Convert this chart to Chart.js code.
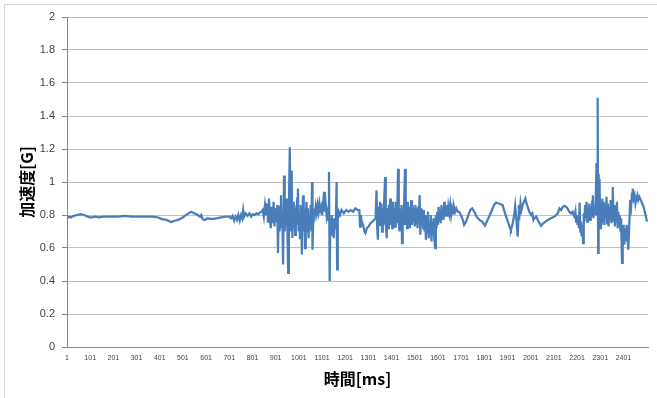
<!DOCTYPE html>
<html>
<head>
<meta charset="utf-8">
<script src="https://cdn.jsdelivr.net/npm/chart.js@4/dist/chart.umd.min.js"></script>
<style>
  html, body { margin: 0; padding: 0; background: #fff; }
  #wrap { width: 657px; height: 398px; position: relative; }
</style>
</head>
<body>
<div id="wrap"><canvas id="myChart" width="657" height="398"></canvas></div>
<script>
// time [ms] of each sample
const timeMs = [
  1, 8, 18, 30, 45, 60, 75, 90, 105, 120,
  140, 160, 190, 220, 250, 280, 310, 340, 370, 395,
  410, 430, 450, 465, 480, 500, 520, 536, 550, 565,
  575, 580, 586, 595, 608, 625, 645, 665, 685, 700,
  708, 715, 722, 728, 734, 740, 746, 752, 757, 761,
  765, 772, 780, 788, 795, 802, 810, 818, 826, 834,
  840,
  845, 850, 855, 860, 864, 868, 872, 876, 880, 884,
  888, 892, 896, 900, 904, 908, 911, 914, 918, 921,
  924, 927, 930, 933, 937, 940, 943, 946, 949, 952,
  955, 958, 962, 965, 968, 970, 973, 976, 979, 982,
  985, 988, 991, 994, 997, 1000, 1003, 1006, 1009, 1012,
  1014, 1017, 1019, 1022, 1025, 1028, 1031, 1034, 1037, 1040,
  1043, 1046, 1049, 1052, 1055, 1058, 1060, 1063, 1066, 1070,
  1074, 1078, 1082, 1086, 1090, 1094, 1098, 1102, 1106, 1110,
  1113, 1117, 1121, 1125, 1128, 1131, 1134, 1137, 1140, 1143,
  1146, 1149, 1152, 1155, 1158, 1161, 1164, 1166, 1169, 1173,
  1178,
  1185, 1195, 1205, 1215, 1225, 1235, 1245, 1255, 1262, 1265,
  1268, 1272, 1278, 1284, 1288, 1294, 1302, 1310, 1318, 1326,
  1332,
  1336, 1339, 1342, 1345, 1348, 1351, 1354, 1357, 1360, 1363,
  1366, 1369, 1373, 1376, 1380, 1383, 1386, 1389, 1392, 1395,
  1398, 1401, 1404, 1407, 1410, 1413, 1416, 1419, 1422, 1426,
  1429, 1432, 1435, 1438, 1441, 1444, 1446, 1449, 1452, 1455,
  1459, 1462, 1465, 1468, 1471, 1474, 1477, 1480, 1483, 1486,
  1489, 1492, 1495, 1498, 1501, 1504, 1507, 1510, 1513, 1516,
  1519, 1522, 1525, 1528, 1531, 1534, 1537, 1540, 1543, 1546,
  1549, 1552, 1555, 1558, 1561, 1564, 1567, 1570, 1573, 1576,
  1579, 1582, 1585, 1589, 1592, 1595, 1598, 1601, 1604, 1607,
  1610, 1613, 1616, 1619, 1622, 1625, 1628, 1631, 1634, 1637,
  1640, 1643, 1646, 1650, 1654, 1658, 1662, 1666, 1670, 1675,
  1680, 1686,
  1692, 1700, 1708, 1714, 1722, 1730, 1740, 1749, 1758, 1768,
  1780, 1792, 1804, 1815, 1825, 1834, 1843, 1852, 1862, 1872,
  1880, 1888, 1895, 1905, 1912, 1916, 1922, 1930, 1934, 1938,
  1942, 1945, 1948, 1950, 1954, 1957, 1961, 1966, 1972, 1978,
  1983, 1988, 1995, 2003, 2008, 2013, 2017, 2025, 2035, 2046,
  2055, 2065, 2075, 2088, 2103, 2112, 2118, 2125, 2132, 2140,
  2146, 2153, 2160, 2168, 2175, 2182, 2186,
  2190, 2194, 2197, 2200, 2203, 2206, 2209, 2212, 2215, 2218,
  2221, 2224, 2227, 2230, 2233, 2236, 2239, 2242, 2245, 2248,
  2251, 2254, 2257, 2260, 2263, 2266, 2269, 2272, 2275, 2278,
  2281, 2285, 2288, 2290, 2292, 2294, 2296, 2298, 2301, 2304,
  2307, 2310, 2313, 2316, 2319, 2322, 2325, 2328, 2331, 2334,
  2337, 2340, 2343, 2346, 2349, 2352, 2355, 2358, 2361, 2364,
  2367, 2370, 2373, 2376, 2379, 2382, 2385, 2388, 2391, 2395,
  2398, 2402, 2405, 2408, 2412, 2415, 2419, 2422, 2426, 2430,
  2434, 2438, 2441, 2445, 2449, 2453, 2457, 2461, 2465, 2470,
  2476, 2482, 2488, 2493, 2498, 2503
]

// acceleration [G], same order as timeMs
const accelG = [
  0.78, 0.79, 0.785, 0.795, 0.80, 0.805, 0.80, 0.79, 0.785, 0.79,
  0.785, 0.79, 0.79, 0.79, 0.795, 0.79, 0.79, 0.79, 0.79, 0.785,
  0.775, 0.77, 0.758, 0.765, 0.77, 0.785, 0.805, 0.82, 0.81, 0.80,
  0.79, 0.80, 0.775, 0.77, 0.78, 0.775, 0.78, 0.785, 0.79, 0.79,
  0.78, 0.795, 0.765, 0.79, 0.77, 0.80, 0.765, 0.80, 0.78, 0.83,
  0.79, 0.81, 0.795, 0.81, 0.79, 0.805, 0.80, 0.81, 0.805, 0.815,
  0.82,
  0.83, 0.79, 0.86, 0.80, 0.87, 0.76, 0.90, 0.78, 0.72, 0.85,
  0.75, 0.88, 0.73, 0.84, 0.76, 0.86, 0.57, 0.82, 0.70, 0.85,
  0.92, 0.72, 0.80, 0.50, 1.04, 0.70, 0.88, 0.74, 0.90, 0.68,
  0.45, 0.85, 1.21, 0.70, 0.80, 1.07, 0.66, 0.88, 0.72, 0.86,
  0.68, 0.84, 0.74, 0.90, 0.96, 0.70, 0.82, 0.66, 0.86, 0.72,
  0.56, 0.80, 0.92, 0.70, 0.84, 0.60, 0.78, 0.88, 0.70, 0.84,
  0.66, 0.80, 0.72, 0.86, 0.70, 1.00, 0.59, 0.78, 0.84, 0.80,
  0.85, 0.81, 0.86, 0.82, 0.87, 0.83, 0.85, 0.80, 0.88, 0.94,
  0.82, 0.86, 0.79, 0.82, 0.77, 1.06, 0.40, 0.78, 0.68, 0.80,
  0.70, 0.78, 0.66, 0.76, 0.72, 0.80, 1.00, 0.47, 0.78, 0.82,
  0.80,
  0.83, 0.81, 0.83, 0.82, 0.83, 0.82, 0.84, 0.83, 0.83, 0.73,
  0.80, 0.76, 0.74, 0.70, 0.69, 0.72, 0.73, 0.75, 0.76, 0.77,
  0.78,
  0.95, 0.72, 0.65, 0.85, 0.74, 0.88, 0.76, 0.87, 0.70, 0.84,
  0.74, 0.88, 1.03, 0.75, 0.66, 0.84, 0.72, 0.86, 0.76, 0.90,
  0.74, 0.86, 0.72, 0.88, 0.76, 0.84, 0.73, 0.88, 0.75, 0.86,
  1.08, 0.76, 0.70, 0.84, 0.72, 0.86, 0.63, 0.82, 0.74, 0.86,
  1.08, 0.74, 0.84, 0.72, 0.88, 0.76, 0.85, 0.72, 0.82, 0.89,
  0.74, 0.86, 0.76, 0.84, 0.73, 0.86, 0.75, 0.84, 0.72, 0.85,
  0.76, 0.92, 0.68, 0.84, 0.74, 0.82, 0.72, 0.83, 0.70, 0.80,
  0.65, 0.78, 0.70, 0.82, 0.66, 0.76, 0.70, 0.80, 0.64, 0.76,
  0.68, 0.78, 0.66, 0.60, 0.80, 0.72, 0.82, 0.74, 0.85, 0.76,
  0.83, 0.75, 0.86, 0.78, 0.84, 0.77, 0.88, 0.79, 0.84, 0.80,
  0.86, 0.79, 0.85, 0.81, 0.86, 0.80, 0.84, 0.81, 0.85, 0.82,
  0.84, 0.82,
  0.82, 0.80, 0.77, 0.74, 0.76, 0.79, 0.83, 0.84, 0.82, 0.79,
  0.77, 0.76, 0.735, 0.77, 0.80, 0.83, 0.86, 0.875, 0.87, 0.865,
  0.86, 0.82, 0.79, 0.75, 0.72, 0.71, 0.74, 0.80, 0.855, 0.80,
  0.72, 0.67, 0.78, 0.86, 0.82, 0.87, 0.83, 0.86, 0.88, 0.90,
  0.87, 0.85, 0.82, 0.80, 0.81, 0.77, 0.78, 0.79, 0.76, 0.735,
  0.75, 0.76, 0.77, 0.78, 0.79, 0.80, 0.81, 0.84, 0.83, 0.85,
  0.856, 0.85, 0.84, 0.82, 0.81, 0.82, 0.80,
  0.79, 0.82, 0.76, 0.80, 0.74, 0.79, 0.72, 0.875, 0.70, 0.76,
  0.67, 0.74, 0.63, 0.81, 0.76, 0.86, 0.78, 0.88, 0.76, 0.84,
  0.78, 0.87, 0.77, 0.85, 0.79, 0.88, 0.92, 0.78, 0.85, 0.80,
  0.86, 1.115, 0.80, 1.51, 0.57, 1.05, 0.76, 1.02, 0.72, 0.86,
  0.74, 0.90, 0.76, 0.88, 0.74, 0.86, 0.78, 0.91, 0.75, 0.87,
  0.73, 0.85, 0.77, 0.89, 0.75, 0.84, 0.97, 0.76, 0.86, 0.73,
  0.84, 0.76, 0.88, 0.72, 0.82, 0.74, 0.80, 0.70, 0.78, 0.51,
  0.70, 0.74, 0.62, 0.72, 0.64, 0.74, 0.66, 0.59, 0.73, 0.89,
  0.85, 0.93, 0.96, 0.90, 0.92, 0.87, 0.90, 0.92, 0.89, 0.91,
  0.89, 0.87, 0.85, 0.82, 0.79, 0.76
]

const xTickValues = [1, 101, 201, 301, 401, 501, 601, 701, 801, 901, 1001, 1101, 1201,
  1301, 1401, 1501, 1601, 1701, 1801, 1901, 2001, 2101, 2201, 2301, 2401]
const xTickLabels = xTickValues.map(String)
const yTickLabels = ['0', '0.2', '0.4', '0.6', '0.8', '1', '1.2', '1.4', '1.6', '1.8', '2']

const clrLine = '#4a7ebb'
const clrAxis = '#868686'
const clrGrid = '#c0c0c0'
const clrText = '#404040'

// light chart-area frame like the spreadsheet export
const framePlugin = {
  id: 'frame',
  beforeDraw: (chart) => {
    const ctx = chart.ctx
    ctx.save()
    ctx.fillStyle = '#fff'
    ctx.fillRect(0, 0, chart.width, chart.height)
    ctx.strokeStyle = '#d9d9d9'
    ctx.lineWidth = 1
    ctx.strokeRect(4.5, 4.5, chart.width + 20, chart.height + 20)
    ctx.restore()
  },
}

const points = timeMs.map((t, i) => ({ x: t, y: accelG[i] }))

const config = {
  type: 'line',
  data: {
    datasets: [
      {
        label: '加速度',
        data: points,
        borderColor: clrLine,
        borderWidth: 2.25,
        pointRadius: 0,
        tension: 0,
        fill: false,
      },
    ],
  },
  options: {
    responsive: false,
    animation: false,
    layout: {
      padding: { top: 17, right: 9, left: 0, bottom: 0 },
    },
    plugins: {
      legend: { display: false },
      tooltip: { enabled: false },
    },
    scales: {
      x: {
        type: 'linear',
        min: 1,
        max: 2507,
        afterBuildTicks: (scale) => {
          scale.ticks = xTickValues.map((v) => ({ value: v }))
        },
        afterFit: (scale) => {
          scale.height = 51
        },
        grid: { display: false, drawTicks: false },
        border: { display: true, color: clrAxis, width: 1 },
        ticks: {
          autoSkip: false,
          maxRotation: 0,
          padding: 7,
          color: clrText,
          font: { family: 'Liberation Sans', size: 7 },
          callback: (value, index) => xTickLabels[index],
        },
        title: {
          display: true,
          text: '時間[ms]',
          color: '#000',
          padding: { top: 0, bottom: 9 },
          font: { family: 'Noto Sans CJK JP', size: 16, weight: 'bold' },
        },
      },
      y: {
        min: 0,
        max: 2,
        afterFit: (scale) => {
          scale.width = 67
        },
        grid: {
          color: clrGrid,
          drawTicks: true,
          tickLength: 5,
          tickColor: clrAxis,
        },
        border: { display: true, color: clrAxis, width: 1 },
        ticks: {
          stepSize: 0.2,
          padding: 7,
          color: clrText,
          font: { family: 'Liberation Sans', size: 11 },
          callback: (value, index) => yTickLabels[index],
        },
        title: {
          display: true,
          text: '加速度[G]',
          color: '#000',
          padding: { top: 17, bottom: 0 },
          font: { family: 'Noto Sans CJK JP', size: 16, weight: 'bold' },
        },
      },
    },
  },
  plugins: [framePlugin],
}

const myChart = new Chart(document.getElementById('myChart'), config)
</script>
</body>
</html>
